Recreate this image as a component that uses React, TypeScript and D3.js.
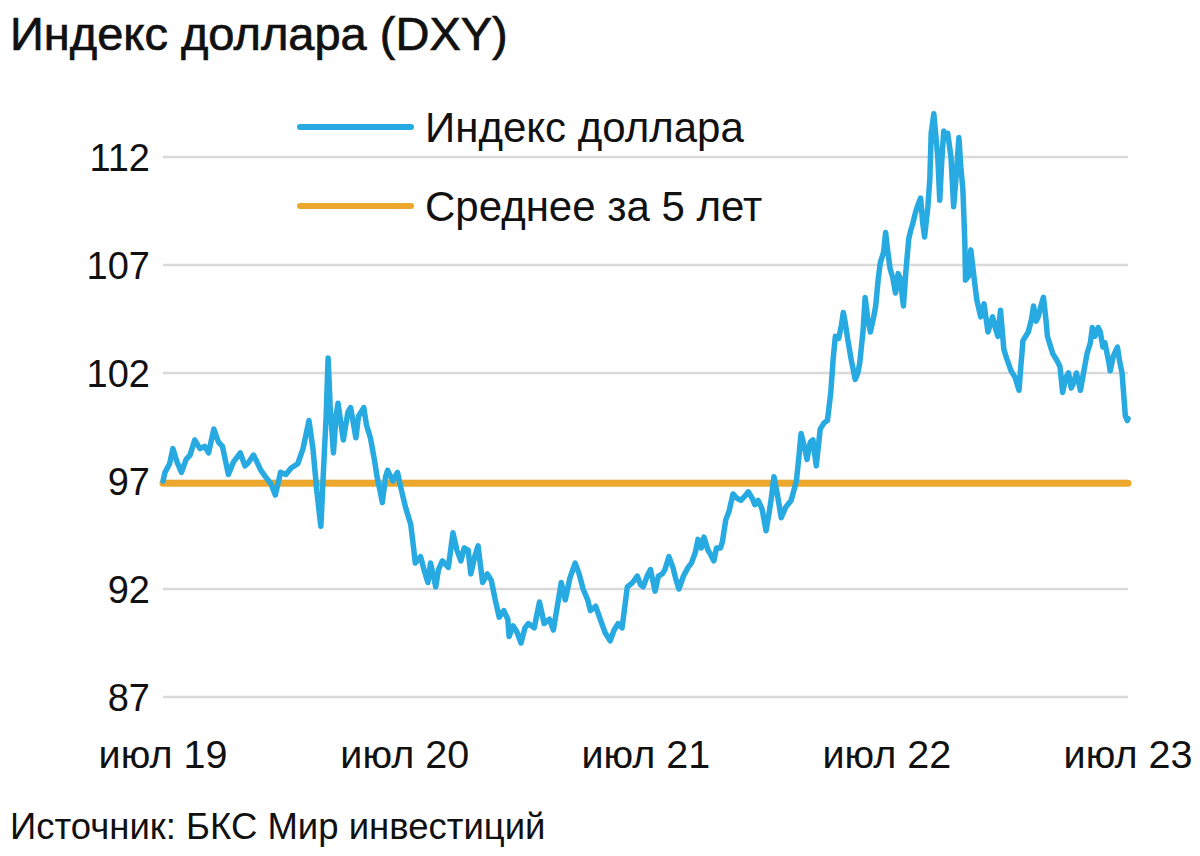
import React from "react";
import * as d3 from "d3";

const TITLE = "Индекс доллара (DXY)";
const SOURCE = "Источник: БКС Мир инвестиций";
const SERIES_NAMES = ["Индекс доллара", "Среднее за 5 лет"];
const SERIES_COLORS = ["#27A9E1", "#EBA82C"];

const yTicks = [87, 92, 97, 102, 107, 112];
const xTickDates = ["2019-07-01", "2020-07-01", "2021-07-01", "2022-07-01", "2023-07-01"];
const xTickLabels = ["июл 19", "июл 20", "июл 21", "июл 22", "июл 23"];

const meanFiveYears = 96.9;

const dxySeries: [string, number][] = [
  ["2019-07-01", 97.0], ["2019-07-04", 97.4], ["2019-07-11", 97.8], ["2019-07-16", 98.5],
  ["2019-07-22", 97.9], ["2019-07-29", 97.4], ["2019-08-05", 98.0], ["2019-08-11", 98.2],
  ["2019-08-18", 98.9], ["2019-08-26", 98.5], ["2019-09-02", 98.6], ["2019-09-08", 98.3],
  ["2019-09-16", 99.4], ["2019-09-23", 98.8], ["2019-09-29", 98.6], ["2019-10-08", 97.3],
  ["2019-10-16", 97.9], ["2019-10-26", 98.3], ["2019-11-02", 97.7], ["2019-11-06", 97.8],
  ["2019-11-15", 98.2], ["2019-11-20", 97.9], ["2019-11-26", 97.5], ["2019-12-03", 97.2],
  ["2019-12-11", 96.9], ["2019-12-18", 96.35], ["2019-12-26", 97.4], ["2020-01-03", 97.3],
  ["2020-01-11", 97.6], ["2020-01-21", 97.8], ["2020-01-29", 98.5], ["2020-02-07", 99.8],
  ["2020-02-13", 98.5], ["2020-02-19", 96.5], ["2020-02-25", 94.9], ["2020-02-29", 97.5],
  ["2020-03-04", 100.0], ["2020-03-07", 102.7], ["2020-03-10", 100.5], ["2020-03-15", 98.3],
  ["2020-03-19", 100.0], ["2020-03-22", 100.6], ["2020-03-30", 98.9], ["2020-04-06", 100.2],
  ["2020-04-10", 100.4], ["2020-04-18", 99.0], ["2020-04-22", 100.0], ["2020-04-30", 100.4],
  ["2020-05-04", 99.6], ["2020-05-10", 99.0], ["2020-05-16", 98.0], ["2020-05-20", 97.2],
  ["2020-05-25", 96.5], ["2020-05-28", 96.0], ["2020-06-02", 97.2], ["2020-06-05", 97.5],
  ["2020-06-13", 97.0], ["2020-06-20", 97.4], ["2020-06-25", 96.7], ["2020-07-02", 95.8],
  ["2020-07-10", 95.0], ["2020-07-14", 94.0], ["2020-07-17", 93.2], ["2020-07-25", 93.5],
  ["2020-07-31", 92.8], ["2020-08-05", 92.3], ["2020-08-09", 93.2], ["2020-08-17", 92.1],
  ["2020-08-21", 92.9], ["2020-08-27", 93.3], ["2020-09-05", 93.0], ["2020-09-12", 94.6],
  ["2020-09-18", 93.8], ["2020-09-24", 93.3], ["2020-09-29", 93.9], ["2020-10-05", 93.8],
  ["2020-10-09", 92.7], ["2020-10-15", 93.5], ["2020-10-20", 94.0], ["2020-10-24", 93.0],
  ["2020-10-27", 92.3], ["2020-11-03", 92.7], ["2020-11-09", 92.4], ["2020-11-15", 91.5],
  ["2020-11-21", 90.7], ["2020-11-28", 91.0], ["2020-12-04", 90.6], ["2020-12-06", 89.8],
  ["2020-12-12", 90.3], ["2020-12-18", 90.0], ["2020-12-24", 89.5], ["2020-12-30", 90.2],
  ["2021-01-04", 90.4], ["2021-01-13", 90.2], ["2021-01-21", 91.4], ["2021-01-28", 90.4],
  ["2021-02-05", 90.6], ["2021-02-11", 90.1], ["2021-02-17", 91.2], ["2021-02-23", 92.3],
  ["2021-03-01", 91.5], ["2021-03-08", 92.5], ["2021-03-16", 93.2], ["2021-03-22", 92.7],
  ["2021-03-28", 92.0], ["2021-04-04", 91.5], ["2021-04-08", 91.0], ["2021-04-16", 91.2],
  ["2021-04-23", 90.6], ["2021-04-30", 90.0], ["2021-05-08", 89.6], ["2021-05-14", 90.1],
  ["2021-05-20", 90.4], ["2021-05-26", 90.2], ["2021-06-03", 92.1], ["2021-06-11", 92.3],
  ["2021-06-18", 92.6], ["2021-06-23", 92.2], ["2021-06-27", 92.1], ["2021-07-03", 92.6],
  ["2021-07-08", 92.9], ["2021-07-15", 91.9], ["2021-07-20", 92.6], ["2021-07-26", 92.7],
  ["2021-07-30", 92.9], ["2021-08-05", 93.5], ["2021-08-11", 93.0], ["2021-08-15", 92.5],
  ["2021-08-20", 92.0], ["2021-08-27", 92.6], ["2021-09-03", 93.0], ["2021-09-08", 93.2],
  ["2021-09-14", 93.7], ["2021-09-18", 94.3], ["2021-09-23", 93.9], ["2021-09-27", 94.4],
  ["2021-10-03", 93.8], ["2021-10-07", 93.6], ["2021-10-12", 93.3], ["2021-10-16", 93.9],
  ["2021-10-22", 93.9], ["2021-10-25", 94.2], ["2021-10-30", 95.2], ["2021-11-04", 95.6],
  ["2021-11-10", 96.4], ["2021-11-16", 96.2], ["2021-11-22", 96.1], ["2021-11-28", 96.3],
  ["2021-12-03", 96.5], ["2021-12-09", 96.2], ["2021-12-13", 95.9], ["2021-12-18", 96.1],
  ["2021-12-24", 95.7], ["2021-12-30", 94.7], ["2022-01-04", 95.6], ["2022-01-07", 96.2],
  ["2022-01-11", 97.2], ["2022-01-16", 96.4], ["2022-01-22", 95.3], ["2022-01-29", 95.8],
  ["2022-02-06", 96.1], ["2022-02-14", 97.0], ["2022-02-18", 98.2], ["2022-02-21", 99.2],
  ["2022-02-26", 98.6], ["2022-03-02", 98.0], ["2022-03-07", 98.8], ["2022-03-11", 98.9],
  ["2022-03-16", 97.7], ["2022-03-22", 99.4], ["2022-03-28", 99.7], ["2022-04-02", 99.8],
  ["2022-04-07", 101.1], ["2022-04-11", 102.8], ["2022-04-14", 103.7], ["2022-04-19", 103.6],
  ["2022-04-23", 104.2], ["2022-04-26", 104.8], ["2022-04-29", 104.3], ["2022-05-03", 103.5],
  ["2022-05-08", 102.6], ["2022-05-14", 101.7], ["2022-05-18", 102.0], ["2022-05-21", 102.5],
  ["2022-05-26", 104.0], ["2022-05-29", 105.5], ["2022-06-02", 104.5], ["2022-06-06", 103.9],
  ["2022-06-11", 104.6], ["2022-06-14", 105.1], ["2022-06-18", 106.4], ["2022-06-21", 107.1],
  ["2022-06-26", 107.6], ["2022-06-29", 108.5], ["2022-07-02", 107.7], ["2022-07-06", 106.8],
  ["2022-07-10", 106.4], ["2022-07-14", 105.7], ["2022-07-18", 106.6], ["2022-07-21", 106.4],
  ["2022-07-26", 105.1], ["2022-07-30", 106.8], ["2022-08-03", 108.2], ["2022-08-06", 108.6],
  ["2022-08-09", 108.9], ["2022-08-13", 109.4], ["2022-08-16", 109.7], ["2022-08-21", 110.1],
  ["2022-08-24", 109.0], ["2022-08-27", 108.3], ["2022-09-01", 109.7], ["2022-09-04", 111.0],
  ["2022-09-06", 113.1], ["2022-09-10", 114.0], ["2022-09-13", 113.0], ["2022-09-16", 112.0],
  ["2022-09-19", 110.0], ["2022-09-22", 111.8], ["2022-09-25", 113.2], ["2022-09-28", 112.9],
  ["2022-10-01", 113.1], ["2022-10-06", 112.0], ["2022-10-10", 109.7], ["2022-10-13", 110.8],
  ["2022-10-18", 112.9], ["2022-10-21", 111.5], ["2022-10-24", 110.5], ["2022-10-27", 108.0],
  ["2022-10-28", 106.3], ["2022-11-02", 106.5], ["2022-11-05", 107.7], ["2022-11-10", 106.4],
  ["2022-11-14", 105.4], ["2022-11-20", 104.6], ["2022-11-25", 105.2], ["2022-12-01", 103.9],
  ["2022-12-05", 104.3], ["2022-12-08", 104.6], ["2022-12-13", 104.0], ["2022-12-16", 103.7],
  ["2022-12-20", 104.9], ["2022-12-25", 103.1], ["2022-12-29", 102.7], ["2023-01-05", 102.1],
  ["2023-01-11", 101.8], ["2023-01-17", 101.2], ["2023-01-20", 102.4], ["2023-01-23", 103.5],
  ["2023-01-31", 103.9], ["2023-02-05", 104.5], ["2023-02-08", 105.1], ["2023-02-12", 104.4],
  ["2023-02-15", 104.6], ["2023-02-20", 105.2], ["2023-02-23", 105.5], ["2023-02-27", 104.4],
  ["2023-03-01", 103.7], ["2023-03-05", 103.3], ["2023-03-09", 102.9], ["2023-03-15", 102.6],
  ["2023-03-20", 102.3], ["2023-03-24", 101.1], ["2023-03-29", 101.8], ["2023-04-02", 102.0],
  ["2023-04-06", 101.3], ["2023-04-09", 101.5], ["2023-04-14", 102.0], ["2023-04-20", 101.2],
  ["2023-04-24", 101.9], ["2023-04-30", 102.9], ["2023-05-05", 103.4], ["2023-05-08", 104.1],
  ["2023-05-12", 103.7], ["2023-05-17", 104.1], ["2023-05-20", 103.9], ["2023-05-24", 103.2],
  ["2023-05-27", 103.4], ["2023-06-02", 102.5], ["2023-06-04", 102.1], ["2023-06-09", 102.8],
  ["2023-06-15", 103.2], ["2023-06-18", 102.6], ["2023-06-22", 102.0], ["2023-06-27", 100.0],
  ["2023-06-30", 99.8], ["2023-07-01", 99.9],
];

const W = 1200;
const H = 856;
const FONT = "'Liberation Sans', Arial, Helvetica, sans-serif";

export default function App() {
  const parse = d3.timeParse("%Y-%m-%d");
  const x = d3
    .scaleTime()
    .domain([parse(xTickDates[0]) as Date, parse(xTickDates[xTickDates.length - 1]) as Date])
    .range([163, 1128]);
  const y = d3.scaleLinear().domain([87, 112]).range([697, 157]);

  const points = dxySeries.map(([d, v]) => ({ date: parse(d) as Date, value: v }));
  const line = d3
    .line<{ date: Date; value: number }>()
    .x((p) => x(p.date))
    .y((p) => y(p.value))
    .curve(d3.curveLinear);

  const [x0, x1] = x.range();

  return (
    <svg
      width={W}
      height={H}
      viewBox={`0 0 ${W} ${H}`}
      style={{ position: "absolute", left: 0, top: 0, background: "#fff", fontFamily: FONT }}
    >
      <rect x={0} y={0} width={W} height={H} fill="#fff" />
      <text x={10} y={50} fontSize={47} fill="#111" stroke="#111" strokeWidth={0.7}>
        {TITLE}
      </text>

      {yTicks.map((t) => (
        <g key={t}>
          <line x1={x0} x2={x1} y1={y(t)} y2={y(t)} stroke="#d9d9d9" strokeWidth={2.5} />
          <text x={150} y={y(t)} dy="0.36em" textAnchor="end" fontSize={38} fill="#111">
            {t}
          </text>
        </g>
      ))}

      {xTickDates.map((d, i) => (
        <text key={d} x={x(parse(d) as Date)} y={768} textAnchor="middle" fontSize={39.5} fill="#111">
          {xTickLabels[i]}
        </text>
      ))}

      <line
        x1={x0}
        x2={x1}
        y1={y(meanFiveYears)}
        y2={y(meanFiveYears)}
        stroke={SERIES_COLORS[1]}
        strokeWidth={7}
        strokeLinecap="round"
      />
      <path
        d={line(points) || ""}
        fill="none"
        stroke={SERIES_COLORS[0]}
        strokeWidth={5.5}
        strokeLinejoin="round"
        strokeLinecap="round"
      />

      {SERIES_NAMES.map((name, i) => (
        <g key={name} transform={`translate(0, ${127 + i * 79})`}>
          <line x1={300} x2={411} y1={0} y2={0} stroke={SERIES_COLORS[i]} strokeWidth={6} strokeLinecap="round" />
          <text x={425} y={0} dy="0.36em" fontSize={42} fill="#111">
            {name}
          </text>
        </g>
      ))}

      <text x={10} y={839} fontSize={36.5} fill="#111">
        {SOURCE}
      </text>
    </svg>
  );
}
